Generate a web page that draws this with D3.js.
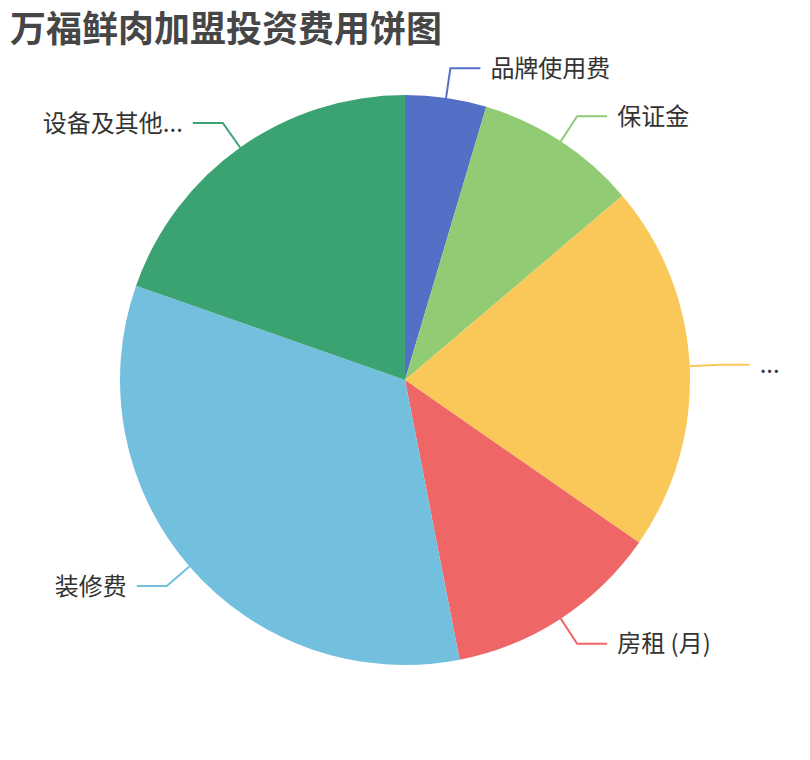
<!DOCTYPE html>
<html>
<head>
<meta charset="utf-8">
<script src="https://cdn.jsdelivr.net/npm/d3@7/dist/d3.min.js"></script>
<style>
  html, body { margin: 0; padding: 0; background: #fff; }
  svg { display: block; font-family: "Noto Sans CJK SC", "Noto Sans", sans-serif; }
</style>
</head>
<body>
<svg id="chart" width="810" height="760"></svg>
<script>
// ---- data ----
const title = "万福鲜肉加盟投资费用饼图";
const categories = ["品牌使用费", "保证金", "...", "房租 (月)", "装修费", "设备及其他..."];
const values = [1.5, 3, 6.8, 4, 10.9, 6.4];
const colors = ["#5470c6", "#91cc75", "#fac858", "#ee6666", "#73c0de", "#3ba272"];

// ---- layout ----
const W = 810, H = 760;
const cx = 405, cy = 380, R = 285;
const len1 = 30, len2 = 30, gap = 10;

const svg = d3.select("#chart");

svg.append("text")
  .attr("x", 10).attr("y", 26)
  .attr("dominant-baseline", "central")
  .attr("font-size", 36).attr("font-weight", "bold")
  .attr("fill", "#464646")
  .text(title);

const data = categories.map((c, i) => ({ name: c, value: values[i], color: colors[i] }));

const pie = d3.pie().sort(null).value(d => d.value);
const arcs = pie(data);
const arc = d3.arc().innerRadius(0).outerRadius(R);

const g = svg.append("g").attr("transform", `translate(${cx},${cy})`);

g.selectAll("path.slice").data(arcs).enter().append("path")
  .attr("class", "slice")
  .attr("d", arc)
  .attr("fill", d => d.data.color);

function pt(a, r) { return [Math.sin(a) * r, -Math.cos(a) * r]; }

arcs.forEach(d => {
  const mid = (d.startAngle + d.endAngle) / 2;
  const p0 = pt(mid, R);
  const p1 = pt(mid, R + len1);
  const right = Math.sin(mid) >= 0;
  const p2 = [p1[0] + (right ? len2 : -len2), p1[1]];
  g.append("path")
    .attr("d", d3.line()([p0, p1, p2]))
    .attr("fill", "none")
    .attr("stroke", d.data.color)
    .attr("stroke-width", 2);
  g.append("text")
    .attr("x", p2[0] + (right ? gap : -gap))
    .attr("y", p2[1] - 2)
    .attr("text-anchor", right ? "start" : "end")
    .attr("dominant-baseline", "central")
    .attr("font-size", 24)
    .attr("fill", "#333")
    .text(d.data.name);
});
</script>
</body>
</html>
